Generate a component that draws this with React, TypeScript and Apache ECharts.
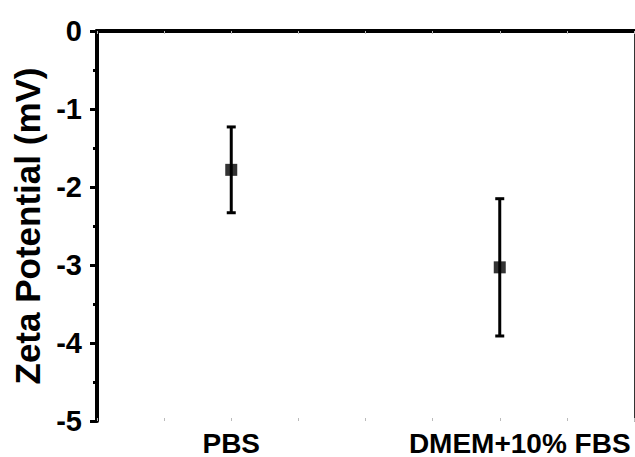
import React, { useEffect, useRef } from "react";
import * as echarts from "echarts";

const categories = ["PBS", "DMEM+10% FBS"];
const means = [-1.78, -3.03];
const lows = [-2.33, -3.91];
const highs = [-1.23, -2.15];
const yTicks = [0, -1, -2, -3, -4, -5];

const FONT = "'Liberation Sans', Arial, sans-serif";

export default function App() {
  const ref = useRef<HTMLDivElement>(null);
  useEffect(() => {
    if (!ref.current) return;
    const chart = echarts.init(ref.current, null, { renderer: "svg" });
    const errData = categories.map((c, i) => [i, lows[i], highs[i]]);
    const catData = categories.map((c, i) =>
      i === categories.length - 1
        ? { value: c, textStyle: { padding: [0, 0, 0, 40] } }
        : { value: c }
    );
    chart.setOption({
      animation: false,
      backgroundColor: "#fff",
      grid: { left: 97, right: 1, top: 31, bottom: 32, containLabel: false },
      xAxis: [
        {
          type: "category",
          data: catData,
          position: "bottom",
          boundaryGap: true,
          axisLine: { show: true, lineStyle: { color: "#000", width: 4 } },
          axisTick: { show: false },
          axisLabel: {
            interval: 0,
            hideOverlap: false,
            color: "#000",
            fontSize: 28,
            lineHeight: 28,
            fontWeight: "bold",
            fontFamily: FONT,
            margin: 8,
          },
          splitLine: { show: false },
        },
        {
          type: "value",
          min: 0,
          max: 8,
          interval: 1,
          position: "top",
          axisLine: { show: true, onZero: false, lineStyle: { color: "#000", width: 4 } },
          axisTick: { show: true, inside: true, length: 3, lineStyle: { color: "#bbb", width: 1 } },
          axisLabel: { show: false },
          splitLine: { show: false },
        },
        {
          type: "value",
          min: 0,
          max: 8,
          interval: 1,
          position: "bottom",
          axisLine: { show: false, onZero: false },
          axisTick: { show: true, inside: true, length: 3, lineStyle: { color: "#bbb", width: 1 } },
          axisLabel: { show: false },
          splitLine: { show: false },
        },
      ],
      yAxis: [
        {
          type: "value",
          min: -5,
          max: 0,
          interval: 1,
          position: "left",
          name: "Zeta Potential (mV)",
          nameLocation: "middle",
          nameGap: 52,
          nameTextStyle: {
            color: "#000",
            fontSize: 35,
            fontWeight: "bold",
            fontFamily: FONT,
          },
          axisLine: { show: true, onZero: false, lineStyle: { color: "#000", width: 4 } },
          axisTick: { show: true, inside: false, length: 7, lineStyle: { color: "#000", width: 3 } },
          minorTick: { show: true, splitNumber: 2, length: 4, lineStyle: { color: "#000", width: 3 } },
          axisLabel: {
            color: "#000",
            fontSize: 29,
            fontWeight: "bold",
            fontFamily: FONT,
            margin: 15,
            formatter: (v: number) => (yTicks.includes(v) ? String(v) : ""),
          },
          splitLine: { show: false },
        },
        {
          type: "value",
          min: -5,
          max: 0,
          interval: 1,
          position: "right",
          axisLine: { show: true, onZero: false, lineStyle: { color: "#333", width: 1 } },
          axisTick: { show: false },
          axisLabel: { show: false },
          splitLine: { show: false },
        },
      ],
      series: [
        {
          type: "custom",
          xAxisIndex: 0,
          yAxisIndex: 0,
          data: errData,
          z: 2,
          renderItem: (params: any, api: any) => {
            const x = api.value(0);
            const lo = api.coord([x, api.value(1)]);
            const hi = api.coord([x, api.value(2)]);
            const cap = 4.5;
            const style = { stroke: "#000", lineWidth: 3 };
            return {
              type: "group",
              children: [
                { type: "line", shape: { x1: lo[0], y1: lo[1], x2: hi[0], y2: hi[1] }, style },
                { type: "line", shape: { x1: lo[0] - cap, y1: lo[1], x2: lo[0] + cap, y2: lo[1] }, style },
                { type: "line", shape: { x1: hi[0] - cap, y1: hi[1], x2: hi[0] + cap, y2: hi[1] }, style },
              ],
            };
          },
        },
        {
          type: "scatter",
          xAxisIndex: 0,
          yAxisIndex: 0,
          symbol: "rect",
          symbolSize: 12,
          z: 3,
          itemStyle: { color: "#000" },
          data: means.map((m, i) => [i, m]),
        },
      ],
    });
    return () => chart.dispose();
  }, []);
  return (
    <div
      ref={ref}
      style={{ position: "absolute", left: 0, top: 0, width: 635, height: 457 }}
    />
  );
}
